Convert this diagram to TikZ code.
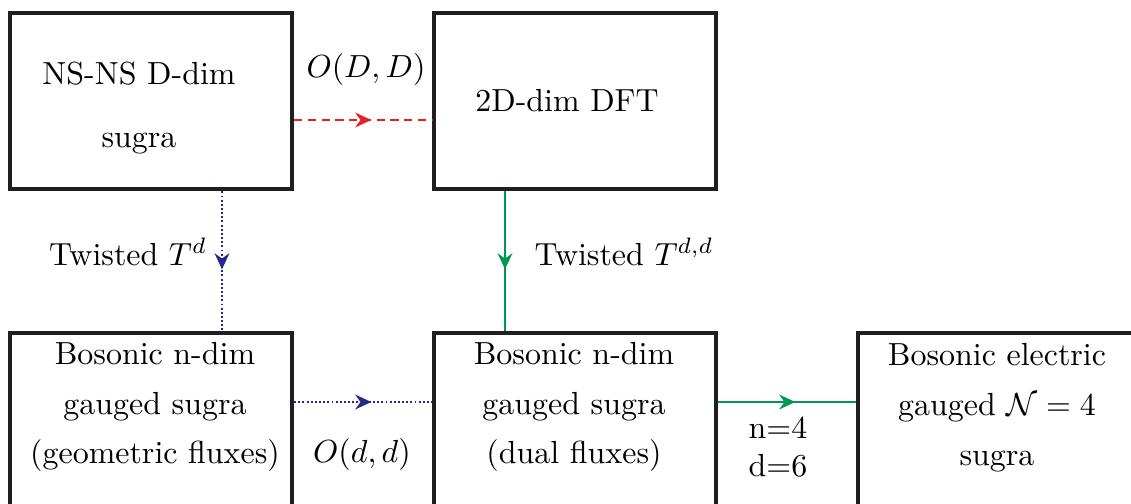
\documentclass[tikz,border=0pt]{standalone}
\usetikzlibrary{arrows.meta,decorations.markings}

\begin{document}
\begin{tikzpicture}[x=0.011cm,y=-0.011cm,
		box/.style={draw=black!88, line width=1.4pt, minimum width=3.1cm, minimum height=1.94cm, inner sep=0pt},
		boxtext/.style={align=center, font=\fontsize{10}{15.6}\selectfont},
		midarrow/.style={postaction={decorate}, decoration={markings, mark=at position 0.56 with {\arrow{Stealth[length=5pt,width=4.6pt]}}}},
		redflow/.style={midarrow, draw=fluxred, line width=0.8pt, dash pattern=on 2.6pt off 1.7pt},
		blueflow/.style={midarrow, draw=fluxblue, line width=0.8pt, dash pattern=on 0.6pt off 0.7pt},
		greenflow/.style={midarrow, draw=fluxgreen, line width=0.8pt}]
		\definecolor{fluxred}{RGB}{232,30,40}
		\definecolor{fluxblue}{RGB}{40,40,140}
		\definecolor{fluxgreen}{RGB}{0,150,85}
		\useasboundingbox (0,0) rectangle (1131,503);
		\clip (0,0) rectangle (1131,503);
		
		% Boxes
		\node[box] (nsns) at (151,101) {};
		\node[box] (dft) at (575,101) {};
		\node[box] (geo) at (151,421) {};
		\node[box] (dual) at (575,421) {};
		\node[box] (elec) at (999,421) {};
		
		% Box texts
		\node[boxtext, font=\fontsize{10}{19.5}\selectfont] (nsnstext) at (139,108) {NS-NS D-dim\\sugra};
		\node[boxtext] (dfttext) at (567,101) {2D-dim DFT};
		\node[boxtext] (geotext) at (155,407) {Bosonic n-dim\\gauged sugra\\(geometric fluxes)};
		\node[boxtext] (dualtext) at (574,407) {Bosonic n-dim\\gauged sugra\\(dual fluxes)};
		\node[boxtext] (electext) at (997,408) {Bosonic electric\\gauged $\mathcal{N}=4$\\sugra};
		
		% Connectors
		\draw[redflow] ([yshift=-0.209cm]nsns.east) -- ([yshift=-0.209cm]dft.west);
		\draw[blueflow] ([xshift=0.781cm]nsns.south) -- ([xshift=0.781cm]geo.north);
		\draw[greenflow] ([xshift=-0.77cm]dft.south) -- ([xshift=-0.77cm]dual.north);
		\draw[blueflow] ([yshift=0.209cm]geo.east) -- ([yshift=0.209cm]dual.west);
		\draw[greenflow] ([yshift=0.209cm]dual.east) -- ([yshift=0.209cm]elec.west);
		
		% Labels
		\node (odd1) at (366,70) {$O(D,D)$};
		\node (twist1) at (128,252) {Twisted $T^d$};
		\node (twist2) at (624,252) {Twisted $T^{d,d}$};
		\node (odd2) at (362,455) {$O(d,d)$};
		\node[align=center] (nd) at (778,447) {n=4\\d=6};
	\end{tikzpicture}
\end{document}
